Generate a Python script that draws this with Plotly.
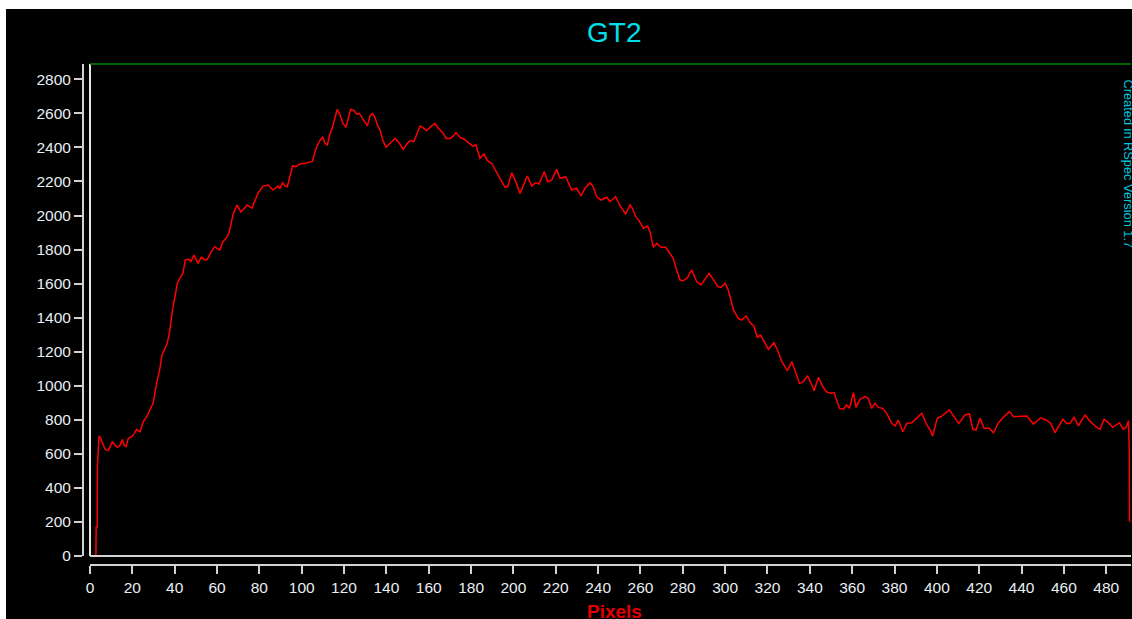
import plotly.graph_objects as go

# Spectrum profile: pixel position vs intensity
pixels = [0, 2.8, 2.9, 3.4, 3.5, 4.25, 5.05, 7.1, 8.65, 10.5, 12.9, 14.2, 15.3, 16.1, 17.0, 18.1,
          19.7, 20.8, 22.0, 23.6, 25.2, 26.8, 28.3, 29.8, 31.3, 32.9, 34.0, 35.3, 36.5, 37.6, 38.4,
          39.2, 40.3, 41.2, 42.4, 43.9, 45.0, 46.6, 47.6, 49.1, 51.0, 52.6, 54.2, 55.4, 57.3, 58.9,
          60.1, 61.3, 62.8, 64.9, 66.0, 67.5, 69.4, 71.3, 74.2, 76.5, 79.4, 81.7, 84.1, 86.4, 88.8,
          89.7, 91.0, 92.1, 93.2, 95.7, 97.3, 99.2, 101.6, 103.1, 105.0, 106.8, 108.3, 109.9, 111.0,
          112.1, 113.4, 114.6, 116.8, 118.1, 119.4, 120.9, 122.0, 123.1, 124.7, 126.0, 127.2, 129.1,
          131.0, 132.3, 133.5, 134.6, 135.7, 137.0, 138.3, 139.8, 141.4, 144.1, 146.1, 148.0, 149.6,
          151.2, 153.0, 154.3, 155.9, 157.1, 159.0, 160.9, 163.0, 164.5, 166.6, 168.2, 170.1, 171.3,
          172.9, 174.8, 176.7, 178.7, 180.8, 182.3, 184.2, 186.1, 187.7, 189.7, 191.3, 192.9, 194.5,
          196.0, 197.3, 199.2, 201.1, 203.1, 204.7, 206.6, 208.6, 210.5, 212.1, 214.6, 216.2, 218.1,
          220.4, 222.0, 224.7, 227.5, 229.9, 231.9, 233.8, 236.2, 237.7, 239.3, 241.4, 244.1, 245.6,
          248.3, 250.4, 253.0, 255.1, 256.2, 257.8, 259.3, 261.4, 263.4, 264.5, 266.1, 267.7, 269.7,
          271.9, 274.0, 275.5, 277.1, 278.7, 280.3, 282.3, 284.2, 286.6, 288.6, 290.8, 292.4, 294.4,
          296.5, 298.1, 300.0, 301.5, 303.9, 306.2, 307.8, 309.9, 311.8, 313.6, 315.2, 316.8, 318.1,
          320.4, 323.1, 324.7, 326.8, 329.4, 331.5, 333.1, 335.1, 337.0, 338.9, 340.5, 342.0, 344.1,
          346.1, 347.7, 349.6, 351.5, 354.0, 355.9, 357.4, 358.7, 360.6, 361.8, 363.7, 366.1, 367.6,
          369.2, 370.8, 372.4, 374.4, 376.3, 378.7, 380.3, 381.8, 383.9, 385.8, 388.1, 390.2, 392.9,
          394.9, 396.8, 398.0, 400.2, 402.3, 403.9, 405.9, 410.3, 413.3, 415.4, 417.0, 418.5, 420.4,
          422.3, 424.8, 426.7, 429.1, 431.4, 434.3, 436.2, 439.3, 442.5, 445.6, 449.1, 451.6, 453.8,
          455.8, 457.9, 459.5, 461.4, 462.9, 464.8, 466.9, 468.0, 470.0, 472.1, 474.7, 477.1, 479.0,
          480.5, 483.1, 486.2, 488.1, 489.4, 490.5, 490.9, 491.0]

intensity = [0, 0, 170, 170, 529, 705, 691, 627, 619, 670, 638, 650, 685, 652, 642, 691,
             701, 717, 744, 730, 789, 818, 858, 897, 1004, 1093, 1181, 1220, 1249, 1318, 1406,
             1464, 1533, 1602, 1631, 1661, 1739, 1743, 1729, 1768, 1719, 1755, 1739, 1743, 1788, 1817,
             1807, 1797, 1846, 1876, 1915, 2003, 2062, 2021, 2062, 2044, 2132, 2173, 2179, 2150, 2173,
             2160, 2193, 2173, 2169, 2291, 2287, 2303, 2307, 2310, 2318, 2395, 2434, 2463, 2424,
             2414, 2483, 2522, 2624, 2590, 2542, 2518, 2581, 2624, 2616, 2596, 2600, 2561,
             2526, 2585, 2600, 2577, 2532, 2502, 2444, 2401, 2420, 2453, 2424, 2389, 2420,
             2440, 2434, 2473, 2526, 2518, 2498, 2522, 2542, 2512, 2487, 2453, 2453, 2463,
             2487, 2459, 2448, 2428, 2408, 2414, 2336, 2361, 2322, 2307, 2270, 2228, 2199,
             2166, 2169, 2252, 2199, 2130, 2173, 2232, 2173, 2193, 2185, 2257, 2199, 2209,
             2271, 2219, 2228, 2150, 2160, 2115, 2160, 2193, 2169, 2111, 2091, 2107, 2081,
             2111, 2056, 2009, 2062, 2042, 1993, 1970, 1925, 1938, 1905, 1813, 1837, 1813,
             1813, 1774, 1749, 1680, 1621, 1617, 1637, 1680, 1611, 1592, 1631, 1661, 1625,
             1582, 1578, 1602, 1562, 1445, 1396, 1386, 1410, 1370, 1351, 1285, 1298, 1269,
             1214, 1253, 1210, 1141, 1089, 1141, 1083, 1014, 1024, 1059, 1018, 971, 1050,
             994, 965, 956, 959, 867, 862, 887, 867, 959, 873, 920, 936, 926,
             867, 897, 873, 867, 838, 779, 764, 799, 730, 779, 783, 809, 838,
             779, 740, 705, 809, 822, 838, 858, 779, 828, 834, 744, 740, 809,
             750, 750, 724, 783, 815, 848, 818, 818, 822, 775, 812, 799, 779,
             724, 769, 803, 779, 779, 815, 764, 789, 828, 795, 764, 744, 803,
             789, 756, 783, 744, 756, 795, 623, 201]

x_ticks = list(range(0, 481, 20))
y_ticks = list(range(0, 2801, 200))

title_text = "GT2"
x_title = "Pixels"
credit_text = "Created in RSpec Version 1.7"

W, H = 1132, 619
L, R, T, B = 83, 1, 64, 619 - 565
plot_w = W - L - R
plot_h = H - T - B

def px_x(p):  # page pixel -> paper x
    return (p - L) / plot_w

def px_y(p):  # page pixel -> paper y
    return (H - B - p) / plot_h

axis_col = "#d2d2d2"
font_family = "Liberation Sans, Arial, sans-serif"
tick_font = dict(family=font_family, size=15.5, color="#e8eef4")

fig = go.Figure()
fig.add_trace(go.Scatter(x=pixels, y=intensity, mode="lines",
                         line=dict(color="#ff0000", width=1.5), showlegend=False,
                         hoverinfo="skip"))

fig.update_layout(
    width=W, height=H, autosize=False, hovermode=False,
    margin=dict(l=L, r=R, t=T, b=B, pad=0),
    paper_bgcolor="#000000", plot_bgcolor="#000000",
    xaxis=dict(range=[0, 491.7], domain=[7 / plot_w, 1], anchor="free", position=0,
               showline=True, linecolor=axis_col, linewidth=2,
               ticks="outside", ticklen=8, tickwidth=2, tickcolor=axis_col,
               tickvals=x_ticks, ticktext=[str(v) for v in x_ticks],
               tickfont=tick_font, showgrid=False, zeroline=False, fixedrange=True),
    yaxis=dict(range=[0, 2890], domain=[9 / plot_h, 1], anchor="free", position=0,
               showline=True, linecolor=axis_col, linewidth=2,
               ticks="outside", ticklen=8, tickwidth=2, tickcolor=axis_col,
               tickvals=y_ticks, ticktext=[str(v) for v in y_ticks],
               tickfont=tick_font, showgrid=False, zeroline=False, fixedrange=True),
    shapes=[
        # plot-area frame
        dict(type="line", xref="x domain", yref="y domain", x0=0, x1=0, y0=0, y1=1,
             line=dict(color="#e6e6e6", width=2)),
        dict(type="line", xref="x domain", yref="y domain", x0=0, x1=1, y0=0, y1=0,
             line=dict(color=axis_col, width=2)),
        dict(type="line", xref="x domain", yref="y domain", x0=0, x1=1, y0=1, y1=1,
             line=dict(color="#008a00", width=1.5)),
        # white page border at left and top
        dict(type="rect", xref="paper", yref="paper", x0=px_x(-20), x1=px_x(6),
             y0=px_y(700), y1=px_y(-20), fillcolor="#ffffff", line=dict(width=0), layer="above"),
        dict(type="rect", xref="paper", yref="paper", x0=px_x(-20), x1=px_x(1200),
             y0=px_y(9), y1=px_y(-20), fillcolor="#ffffff", line=dict(width=0), layer="above"),
    ],
    annotations=[
        dict(text=title_text, xref="paper", yref="paper", x=px_x(614), y=px_y(32),
             xanchor="center", yanchor="middle", showarrow=False,
             font=dict(family=font_family, size=28, color="#00e0ea")),
        dict(text="<b>" + x_title + "</b>", xref="paper", yref="paper", x=px_x(614), y=px_y(611),
             xanchor="center", yanchor="middle", showarrow=False,
             font=dict(family=font_family, size=19, color="#e00000")),
        dict(text=credit_text, xref="paper", yref="paper", x=px_x(1128), y=px_y(77),
             xanchor="center", yanchor="top", textangle=90, showarrow=False,
             font=dict(family=font_family, size=12.8, color="#00c8dc")),
    ],
)

fig.write_html(
    "out.html",
    config={"displayModeBar": False, "staticPlot": True},
    post_script="document.body.style.margin='0px';"
                "document.body.style.overflow='hidden';"
                "document.documentElement.style.overflow='hidden';",
)
